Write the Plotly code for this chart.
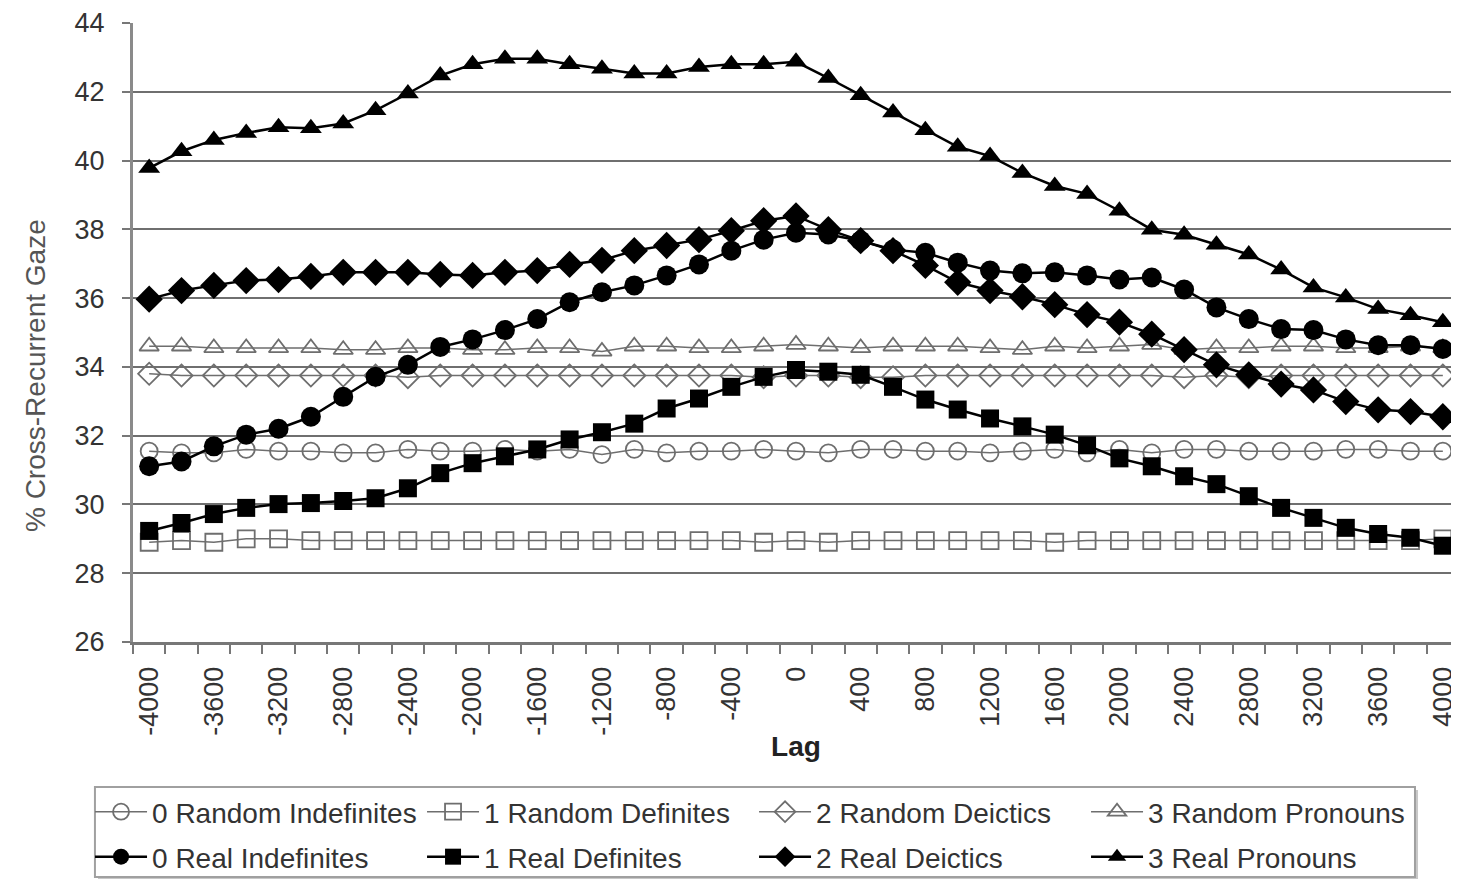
import plotly.graph_objects as go

lags = [-4000, -3800, -3600, -3400, -3200, -3000, -2800, -2600, -2400, -2200, -2000,
        -1800, -1600, -1400, -1200, -1000, -800, -600, -400, -200, 0,
        200, 400, 600, 800, 1000, 1200, 1400, 1600, 1800, 2000,
        2200, 2400, 2600, 2800, 3000, 3200, 3400, 3600, 3800, 4000]

tick_labels = ["-4000", "-3600", "-3200", "-2800", "-2400", "-2000", "-1600", "-1200",
               "-800", "-400", "0", "400", "800", "1200", "1600", "2000", "2400",
               "2800", "3200", "3600", "4000"]
tick_values = [-4000, -3600, -3200, -2800, -2400, -2000, -1600, -1200, -800, -400, 0,
               400, 800, 1200, 1600, 2000, 2400, 2800, 3200, 3600, 4000]
y_ticks = [26, 28, 30, 32, 34, 36, 38, 40, 42, 44]

random_indefinites = [31.55, 31.5, 31.5, 31.6, 31.55, 31.55, 31.5, 31.5, 31.6, 31.55, 31.55,
                      31.6, 31.55, 31.6, 31.45, 31.6, 31.5, 31.55, 31.55, 31.6, 31.55,
                      31.5, 31.6, 31.6, 31.55, 31.55, 31.5, 31.55, 31.6, 31.5, 31.6,
                      31.5, 31.6, 31.6, 31.55, 31.55, 31.55, 31.6, 31.6, 31.55, 31.55]
random_definites = [28.9, 28.95, 28.9, 29.0, 29.0, 28.95, 28.95, 28.95, 28.95, 28.95, 28.95,
                    28.95, 28.95, 28.95, 28.95, 28.95, 28.95, 28.95, 28.95, 28.9, 28.95,
                    28.9, 28.95, 28.95, 28.95, 28.95, 28.95, 28.95, 28.9, 28.95, 28.95,
                    28.95, 28.95, 28.95, 28.95, 28.95, 28.95, 28.95, 28.95, 28.95, 29.0]
random_deictics = [33.8, 33.75, 33.75, 33.75, 33.75, 33.75, 33.75, 33.75, 33.7, 33.75, 33.75,
                   33.75, 33.75, 33.75, 33.75, 33.75, 33.75, 33.75, 33.75, 33.7, 33.75,
                   33.75, 33.7, 33.7, 33.75, 33.75, 33.75, 33.75, 33.75, 33.75, 33.75,
                   33.75, 33.7, 33.75, 33.7, 33.75, 33.75, 33.75, 33.75, 33.75, 33.75]
random_pronouns = [34.6, 34.6, 34.55, 34.55, 34.55, 34.55, 34.5, 34.5, 34.55, 34.55, 34.5,
                   34.5, 34.55, 34.55, 34.45, 34.6, 34.6, 34.55, 34.55, 34.6, 34.65,
                   34.6, 34.55, 34.6, 34.6, 34.6, 34.55, 34.5, 34.6, 34.55, 34.6,
                   34.65, 34.5, 34.55, 34.55, 34.6, 34.6, 34.55, 34.55, 34.6, 34.55]

real_indefinites = [31.11, 31.25, 31.69, 32.03, 32.2, 32.55, 33.13, 33.71, 34.06, 34.58, 34.8,
                    35.07, 35.39, 35.88, 36.17, 36.37, 36.66, 36.98, 37.38, 37.7, 37.9,
                    37.85, 37.67, 37.41, 37.32, 37.03, 36.8, 36.72, 36.75, 36.66, 36.54,
                    36.6, 36.25, 35.73, 35.39, 35.1, 35.07, 34.8, 34.63, 34.63, 34.52]
real_definites = [29.23, 29.46, 29.72, 29.9, 30.01, 30.04, 30.1, 30.18, 30.47, 30.91, 31.2,
                  31.4, 31.6, 31.89, 32.1, 32.35, 32.79, 33.08, 33.42, 33.71, 33.91,
                  33.86, 33.77, 33.42, 33.05, 32.76, 32.5, 32.27, 32.03, 31.72, 31.34,
                  31.11, 30.82, 30.59, 30.24, 29.9, 29.61, 29.32, 29.14, 29.03, 28.8]
real_deictics = [35.97, 36.22, 36.37, 36.51, 36.54, 36.63, 36.75, 36.75, 36.75, 36.69, 36.66,
                 36.75, 36.8, 36.98, 37.1, 37.38, 37.53, 37.7, 37.96, 38.25, 38.39,
                 37.99, 37.67, 37.38, 36.95, 36.46, 36.22, 36.04, 35.81, 35.52, 35.3,
                 34.95, 34.5, 34.06, 33.77, 33.5, 33.33, 32.99, 32.75, 32.7, 32.55]
real_pronouns = [39.78, 40.27, 40.6, 40.8, 40.97, 40.94, 41.08, 41.46, 41.95, 42.47, 42.8,
                 42.96, 42.96, 42.8, 42.67, 42.53, 42.53, 42.72, 42.8, 42.8, 42.87,
                 42.4, 41.9, 41.4, 40.88, 40.4, 40.13, 39.64, 39.26, 39.03, 38.54,
                 37.99, 37.84, 37.55, 37.27, 36.83, 36.31, 36.02, 35.68, 35.5, 35.3]

series_names = ["0 Random Indefinites", "1 Random Definites", "2 Random Deictics",
                "3 Random Pronouns", "0 Real Indefinites", "1 Real Definites",
                "2 Real Deictics", "3 Real Pronouns"]
series_values = [random_indefinites, random_definites, random_deictics, random_pronouns,
                 real_indefinites, real_definites, real_deictics, real_pronouns]
symbols = ["circle-open", "square-open", "diamond-open", "triangle-up-open",
           "circle", "square", "diamond", "triangle-up"]
sizes = [17, 17, 17, 17, 20, 18, 21, 19]

FONT = "Liberation Sans, Arial, sans-serif"

fig = go.Figure()
for i, (name, vals) in enumerate(zip(series_names, series_values)):
    is_real = i >= 4
    color = "#000000" if is_real else "#6e6e6e"
    fig.add_trace(go.Scatter(
        x=lags, y=vals, name=name, mode="lines+markers",
        legend="legend2" if is_real else "legend",
        line=dict(color=color, width=2.5 if is_real else 1.5),
        marker=dict(symbol=symbols[i], size=sizes[i], color=color,
                    line=dict(color=color, width=1.8 if not is_real else 0)),
    ))

# legend frame (with soft shadow), in paper coordinates of the plot area
fig.add_shape(type="rect", xref="paper", yref="paper",
              x0=-0.0264, x1=0.9691, y0=-0.2391, y1=-0.3845,
              line=dict(width=0), fillcolor="#c8c8c8", layer="above")
fig.add_shape(type="rect", xref="paper", yref="paper",
              x0=-0.0287, x1=0.9668, y0=-0.2343, y1=-0.3796,
              line=dict(color="#a0a0a0", width=2), fillcolor="white", layer="above")
# right border line
fig.add_shape(type="line", xref="paper", yref="paper", x0=1, x1=1, y0=0, y1=1,
              line=dict(color="#b0b0b0", width=3), layer="above")

# y-axis title (placed as rotated text, centred like the original)
fig.add_annotation(text="% Cross-Recurrent Gaze", textangle=-90, showarrow=False,
                   xref="paper", yref="paper", x=-0.0739, y=0.4297,
                   xanchor="center", yanchor="middle",
                   font=dict(family=FONT, size=28, color="#555555"))

legend_common = dict(
    orientation="h", xref="paper", yref="paper",
    x=-0.0324, xanchor="left", yanchor="middle",
    font=dict(family=FONT, size=28, color="#333333"),
    itemwidth=52, entrywidth=265, entrywidthmode="pixels",
    bgcolor="rgba(0,0,0,0)", borderwidth=0, traceorder="normal",
)

fig.update_layout(
    width=1455, height=871,
    margin=dict(l=125, r=4, t=15, b=237, autoexpand=False),
    paper_bgcolor="white", plot_bgcolor="white",
    font=dict(family=FONT, size=27, color="#333333"),
    showlegend=True,
    legend=dict(y=-0.2746, **legend_common),
    legend2=dict(y=-0.3473, **legend_common),
    xaxis=dict(
        range=[-4100, 4100], tickmode="array", tickvals=tick_values, ticktext=tick_labels,
        tickangle=-90, ticks="", showgrid=False, zeroline=False,
        showline=True, linecolor="#777777", linewidth=3,
        tickfont=dict(family=FONT, size=27, color="#333333"),
        ticklabelstandoff=11, ticklabeloverflow="allow",
        minor=dict(ticks="outside", tick0=-4100, dtick=200, ticklen=9, tickwidth=2,
                   tickcolor="#777777", showgrid=False),
        title=dict(text="<b>Lag</b>", font=dict(family=FONT, size=28, color="#222222"),
                   standoff=2),
        automargin=False,
    ),
    yaxis=dict(
        range=[26, 44], tickmode="array", tickvals=y_ticks,
        ticks="outside", ticklen=8, tickwidth=2, tickcolor="#777777",
        showgrid=True, gridcolor="#6f6f6f", gridwidth=2, zeroline=False,
        showline=True, linecolor="#8a8a8a", linewidth=3,
        tickfont=dict(family=FONT, size=27, color="#333333"),
        ticklabelstandoff=12, ticklabeloverflow="allow",
        automargin=False,
    ),
)

fig.write_html("out.html")
